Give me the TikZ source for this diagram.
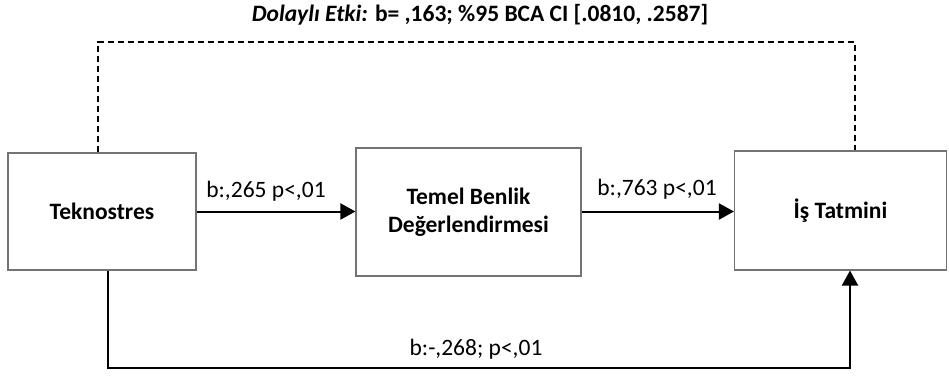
\documentclass[tikz,border=0pt]{standalone}
\usepackage{fontspec}
\setmainfont{Carlito}
\usetikzlibrary{arrows.meta}
\begin{document}
\begin{tikzpicture}[x=1pt,y=-1pt,
  box/.style={draw=black!55,line width=1.1pt,inner sep=0pt,font=\bfseries\fontsize{23.5}{28}\selectfont,align=center},
  conn/.style={line width=2pt,-{Triangle[length=15pt,width=16pt]}},
  lbl/.style={font=\fontsize{23.5}{28}\selectfont,inner sep=0pt,anchor=base},
  dashline/.style={line width=1.4pt,dash pattern=on 6pt off 4pt}]
\useasboundingbox (0,0) rectangle (949,380);
\node[box,minimum width=188pt,minimum height=117pt] (tek) at (102,211.5) {Teknostres};
\node[box,minimum width=225pt,minimum height=128pt] (tbd) at (468.5,212) {Temel Benlik\\Değerlendirmesi};
\node[box,minimum width=212pt,minimum height=119pt] (ist) at (840.5,210.5) {İş Tatmini};
\node[lbl] (t) at (480,21) {\bfseries\itshape Dolaylı Etki:\upshape{} b= ,163; \%95 BCA CI [.0810, .2587]};
\coordinate (d1) at (98,42);
\coordinate (d2) at (855,42);
\draw[dashline] (tek.north -| d1) -- (d1) -- (d2) -- (ist.north -| d2);
\draw[conn] (tek.east |- 0,211.5) -- (tbd.west |- 0,211.5);
\draw[conn] (tbd.east |- 0,211.5) -- (ist.west |- 0,211.5);
\coordinate (b1) at (108,368);
\coordinate (b2) at (850,368);
\draw[conn] (tek.south -| b1) -- (b1) -- (b2) -- (ist.south -| b2);
\node[lbl] (l1) at (266,197) {b:,265 p<,01};
\node[lbl] (l2) at (657,195) {b:,763 p<,01};
\node[lbl] (l3) at (476,355) {b:-,268; p<,01};
\end{tikzpicture}
\end{document}
